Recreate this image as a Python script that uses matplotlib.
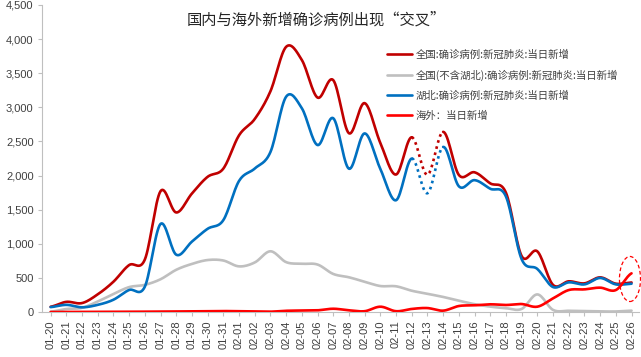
import numpy as np
import matplotlib
matplotlib.use("Agg")
from matplotlib import pyplot as plt
from matplotlib.patches import Ellipse

plt.rcParams['font.family'] = ['Noto Sans CJK SC', 'DejaVu Sans']

# dates 01-20 .. 02-26
dates = ["01-%02d" % d for d in range(20, 32)] + ["02-%02d" % d for d in range(1, 27)]

# daily new confirmed
china_total = [77, 149, 131, 259, 444, 688, 769, 1771, 1459, 1737, 1982, 2102,
               2590, 2829, 3235, 3887, 3694, 3143, 3399, 2620, 3062, 2478, 2015,
               2562, 2010, 2641, 2009, 2048, 1886, 1749, 820, 889, 397, 450, 420,
               508, 415, 433]
china_ex_hubei = [5, 44, 62, 154, 264, 365, 398, 480, 619, 705, 762, 755,
                  669, 726, 890, 731, 707, 696, 558, 509, 444, 381, 377,
                  312, 267, 221, 166, 115, 79, 56, 45, 258, 31, 18, 14, 9, 8, 20]
hubei = [72, 105, 69, 105, 180, 323, 371, 1291, 840, 1032, 1220, 1347,
         1921, 2103, 2345, 3156, 2987, 2447, 2841, 2100, 2618, 2097, 1638,
         2250, 1740, 2420, 1843, 1933, 1807, 1693, 775, 631, 366, 435, 405,
         499, 405, 415]
overseas = [0, 1, 2, 3, 3, 4, 5, 5, 8, 10, 12, 14,
            12, 8, 5, 18, 22, 25, 48, 25, 12, 78, 12,
            45, 58, 20, 88, 98, 113, 103, 117, 78, 200, 322, 332,
            357, 322, 567]

labels = ["全国:确诊病例:新冠肺炎:当日新增",
          "全国(不含湖北):确诊病例:新冠肺炎:当日新增",
          "湖北:确诊病例:新冠肺炎:当日新增",
          "海外：当日新增"]
colors = ["#C00000", "#BFBFBF", "#0070C0", "#FF0000"]

# 02-12 .. 02-14 drawn dotted
gap_start, gap_end = 23, 25


def smooth(y, n=16):
    # catmull-rom style curve through the points, like excel smoothed lines
    y = np.asarray(y, dtype=float)
    p = np.concatenate([[y[0]], y, [y[-1]]])
    xs, ys = [], []
    for i in range(len(y) - 1):
        p0, p1, p2, p3 = p[i], p[i + 1], p[i + 2], p[i + 3]
        t = np.linspace(0, 1, n, endpoint=False)
        seg = 0.5 * ((2 * p1) + (-p0 + p2) * t
                     + (2 * p0 - 5 * p1 + 4 * p2 - p3) * t ** 2
                     + (-p0 + 3 * p1 - 3 * p2 + p3) * t ** 3)
        xs.append(i + t)
        ys.append(seg)
    xs.append([len(y) - 1])
    ys.append([y[-1]])
    return np.concatenate(xs), np.concatenate(ys)


def draw(ax, y, color, label, gap=False, lw=1.9, z=2):
    xs, ys = smooth(y)
    if not gap:
        ax.plot(xs, ys, color=color, lw=lw, label=label, zorder=z,
                solid_capstyle="round")
        return
    a = xs <= gap_start
    b = (xs >= gap_start) & (xs <= gap_end)
    c = xs >= gap_end
    ax.plot(xs[a], ys[a], color=color, lw=lw, label=label, zorder=z,
            solid_capstyle="round")
    ax.plot(xs[b], ys[b], color=color, lw=lw, ls=(0, (1, 1.4)), zorder=z)
    ax.plot(xs[c], ys[c], color=color, lw=lw, zorder=z, solid_capstyle="round")


fig = plt.figure(figsize=(6.41, 3.57), dpi=100)
ax = fig.add_axes([0.0655, 0.126, 0.932, 0.86])

draw(ax, china_ex_hubei, colors[1], labels[1], z=2)
draw(ax, china_total, colors[0], labels[0], gap=True, z=3)
draw(ax, hubei, colors[2], labels[2], gap=True, z=4)
draw(ax, overseas, colors[3], labels[3], z=5)

# the "crossing" mark
ax.add_patch(Ellipse((36.9, 484), 1.34, 660, fill=False, ec="#FF0000",
                     lw=0.9, ls=(0, (3, 2)), clip_on=False, zorder=6))

ax.set_xlim(-0.55, len(dates) - 0.5)
ax.set_ylim(0, 4500)
ax.set_xticks(range(len(dates)))
ax.set_xticklabels(dates, rotation=90, fontsize=8, color="#404040",
                   family=["Liberation Sans", "DejaVu Sans"])
ax.set_yticks(range(0, 4501, 500))
ax.set_yticklabels(["{:,}".format(v) for v in range(0, 4501, 500)],
                   fontsize=8, color="#404040",
                   family=["Liberation Sans", "DejaVu Sans"])
ax.tick_params(axis="both", length=3, width=0.8, color="#BFBFBF", pad=3)

for s in ["top", "right"]:
    ax.spines[s].set_visible(False)
for s in ["left", "bottom"]:
    ax.spines[s].set_color("#BFBFBF")
    ax.spines[s].set_linewidth(0.8)

fig.text(0.493, 0.945, "国内与海外新增确诊病例出现“交叉”", ha="center", va="center",
         fontsize=11, color="#262626")

# legend order as in the picture
h, l = ax.get_legend_handles_labels()
order = [l.index(t) for t in labels]
leg = ax.legend([h[i] for i in order], [l[i] for i in order],
                loc="upper left", bbox_to_anchor=(383 / 641, 1 - 45 / 357),
                bbox_transform=fig.transFigure, frameon=False, fontsize=7.5,
                handlelength=2.4, handletextpad=0.3, labelspacing=0.95,
                borderaxespad=0)
for t in leg.get_texts():
    t.set_color("#404040")

fig.savefig("out.png", dpi=100)
